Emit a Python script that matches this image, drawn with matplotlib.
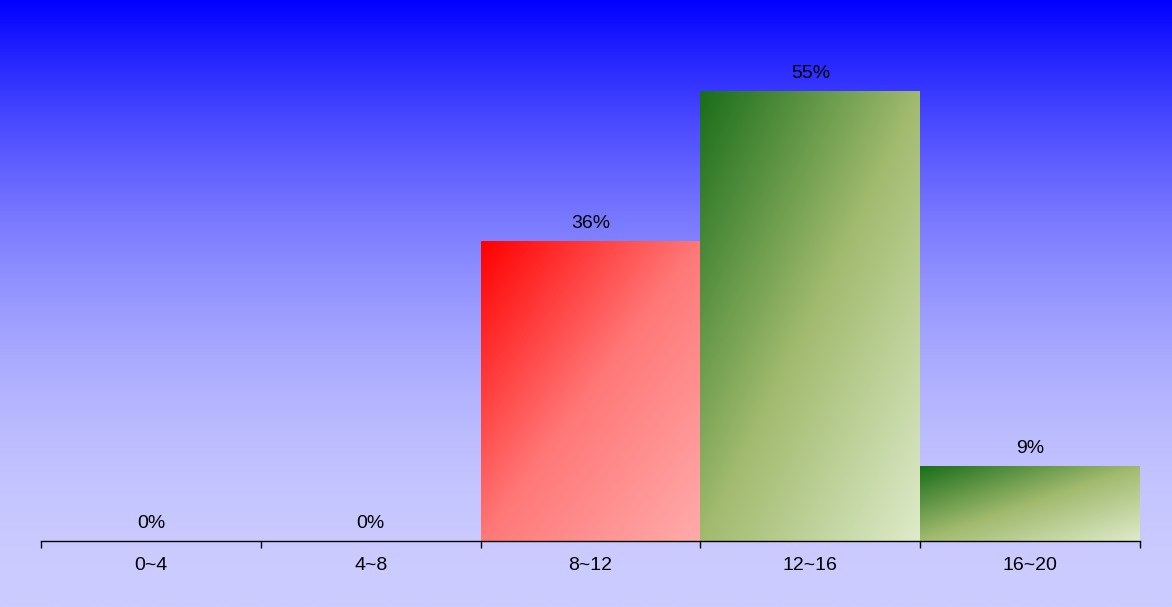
import numpy as np
import matplotlib
matplotlib.use("Agg")
import matplotlib.pyplot as plt
from matplotlib.colors import LinearSegmentedColormap

# score ranges and share of students in each (percent)
ranges = ["0~4", "4~8", "8~12", "12~16", "16~20"]
shares = [0.0, 0.0, 36.36, 54.55, 9.09]
bar_fills = ["red", "red", "red", "green", "green"]

plt.rcParams['font.family'] = ['Liberation Sans', 'DejaVu Sans']

fills = {
    "red": LinearSegmentedColormap.from_list(
        "red", [(0, (1, 0, 0)), (0.5, (1, 0.47, 0.47)), (1, (1, 0.67, 0.67))]),
    "green": LinearSegmentedColormap.from_list(
        "green", [(0, (0.10, 0.43, 0.10)), (0.5, (0.63, 0.73, 0.43)),
                  (1, (0.87, 0.92, 0.79))]),
}

fig = plt.figure(figsize=(11.72, 6.07), dpi=100)

# page background: blue at the top fading to lavender
bg = fig.add_axes([0, 0, 1, 1], zorder=-10)
f = np.linspace(0, 1, 400)[:, None]
light = 0.8 * (1 - (1 - f) ** 2)
bg_img = np.dstack([light, light, np.ones_like(light)])
bg.imshow(bg_img, aspect="auto", extent=[0, 1, 1, 0])
bg.set_axis_off()

ax = fig.add_axes([41 / 1172, 66 / 607, 1099 / 1172, 500 / 607])
ax.patch.set_alpha(0)

x = np.arange(len(ranges))
bars = ax.bar(x, shares, width=1.0, color="none", edgecolor="none")

# diagonal gradient inside each bar (top-left -> bottom-right)
g = np.linspace(0, 1, 200)
gx, gy = np.meshgrid(g, g)
t = (gx + gy) / 2
for rect, share, fill in zip(bars, shares, bar_fills):
    if share <= 0:
        continue
    x0, w, h = rect.get_x(), rect.get_width(), rect.get_height()
    im = ax.imshow(t, cmap=fills[fill], vmin=0, vmax=1, aspect="auto",
                   extent=[x0, x0 + w, 0, h], origin="upper",
                   interpolation="bilinear", zorder=2)
    im.set_clip_path(rect)

for xi, share in zip(x, shares):
    ax.annotate(f"{share:.0f}%", (xi, share), xytext=(0, 12.8),
                textcoords="offset points", ha="center", va="center",
                fontsize=14, color="black")

ax.set_xlim(-0.5, len(ranges) - 0.5)
ax.set_ylim(0, max(shares) / 0.9)

for s in ["top", "left", "right"]:
    ax.spines[s].set_visible(False)
ax.spines["bottom"].set_linewidth(1.0)
ax.spines["bottom"].set_zorder(5)
ax.set_yticks([])

ax.set_xticks(np.arange(len(ranges) + 1) - 0.5)
ax.set_xticklabels([])
ax.tick_params(axis="x", which="major", length=5, width=1.0, color="black")
ax.set_xticks(x, minor=True)
ax.set_xticklabels(ranges, minor=True, fontsize=14)
ax.tick_params(axis="x", which="minor", length=0, pad=11.5)

fig.savefig("out.png", dpi=100)
